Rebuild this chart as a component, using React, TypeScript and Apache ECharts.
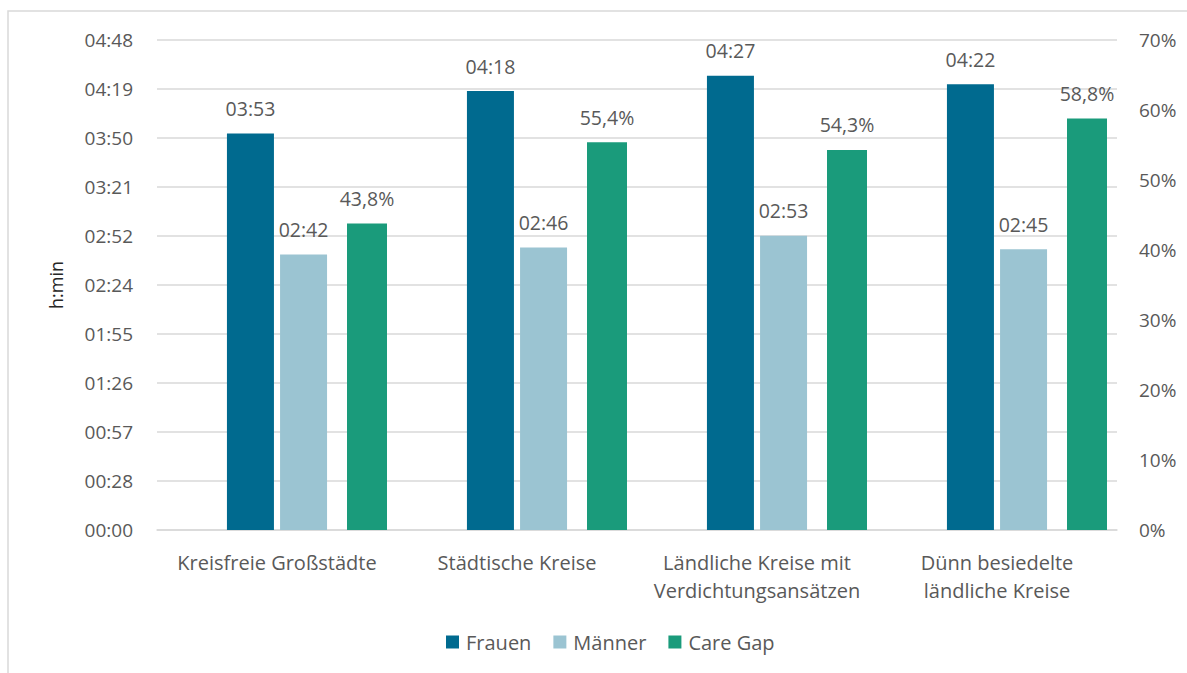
import React, { useEffect, useRef } from "react";
import * as echarts from "echarts";

const categories = [
  "Kreisfreie Großstädte",
  "Städtische Kreise",
  "Ländliche Kreise mit\nVerdichtungsansätzen",
  "Dünn besiedelte\nländliche Kreise",
];
// minutes per day
const frauen = [233, 258, 267, 262];
const maenner = [162, 166, 173, 165];
// percent
const careGap = [43.8, 55.4, 54.3, 58.8];
const seriesNames = ["Frauen", "Männer", "Care Gap"];

const FONT = "'Open Sans', sans-serif";
const TXT = "#595959";
const GRID = "#d9d9d9";

const fmtMin = (v: number) => {
  const m = Math.floor(v + 1e-6);
  const h = Math.floor(m / 60);
  const mm = m % 60;
  return String(h).padStart(2, "0") + ":" + String(mm).padStart(2, "0");
};
const fmtPct = (v: number) => v.toFixed(1).replace(".", ",") + "%";

export default function App() {
  const ref = useRef<HTMLDivElement>(null);
  useEffect(() => {
    if (!ref.current) return;
    const chart = echarts.init(ref.current, undefined, { renderer: "svg" });
    const labelStyle = {
      show: true,
      position: "top" as const,
      distance: 15,
      color: TXT,
      fontFamily: FONT,
      fontSize: 19.5,
    };
    chart.setOption({
      animation: false,
      backgroundColor: "#fff",
      textStyle: { fontFamily: FONT },
      graphic: [
        {
          type: "rect",
          shape: { x: 8, y: 11, width: 1200, height: 700 },
          style: { fill: "none", stroke: GRID, lineWidth: 1.5 },
          silent: true,
        },
      ],
      grid: { left: 157, right: 70, top: 40, bottom: 143, containLabel: false },
      legend: {
        data: seriesNames,
        bottom: 16,
        left: 441,
        itemWidth: 13,
        itemHeight: 13,
        itemGap: 22,
        icon: "rect",
        textStyle: { color: TXT, fontFamily: FONT, fontSize: 20, padding: [0, 0, 0, 2] },
      },
      xAxis: [
        {
          type: "category",
          data: categories,
          axisLine: { show: true, lineStyle: { color: GRID, width: 1.5 } },
          axisTick: { show: false },
          axisLabel: {
            color: TXT,
            fontFamily: FONT,
            fontSize: 20,
            margin: 18,
            lineHeight: 28,
            interval: 0,
          },
        },
        {
          type: "category",
          data: categories,
          show: false,
        },
      ],
      yAxis: [
        {
          type: "value",
          min: 0,
          max: 288,
          interval: 28.8,
          name: "h:min",
          nameLocation: "middle",
          nameRotate: 90,
          nameGap: 92,
          nameTextStyle: { color: "#262626", fontFamily: FONT, fontSize: 18 },
          axisLine: { show: false },
          axisTick: { show: false },
          axisLabel: {
            color: TXT,
            fontFamily: FONT,
            fontSize: 19,
            margin: 24,
            formatter: (v: number) => fmtMin(v),
          },
          splitLine: { lineStyle: { color: GRID, width: 1.5 } },
        },
        {
          type: "value",
          min: 0,
          max: 70,
          interval: 10,
          position: "right",
          axisLine: { show: false },
          axisTick: { show: false },
          axisLabel: {
            color: TXT,
            fontFamily: FONT,
            fontSize: 19,
            margin: 22,
            formatter: "{value}%",
          },
          splitLine: { show: false },
        },
      ],
      series: [
        {
          name: seriesNames[0],
          type: "bar",
          xAxisIndex: 0,
          yAxisIndex: 0,
          data: frauen,
          barWidth: 47,
          barGap: "13%",
          itemStyle: { color: "#006a8f" },
          label: { ...labelStyle, formatter: (p: any) => fmtMin(p.value) },
        },
        {
          name: seriesNames[1],
          type: "bar",
          xAxisIndex: 0,
          yAxisIndex: 0,
          data: maenner,
          barWidth: 47,
          barGap: "13%",
          itemStyle: { color: "#9bc4d2" },
          label: { ...labelStyle, formatter: (p: any) => fmtMin(p.value) },
        },
        {
          name: "_spacer",
          type: "bar",
          xAxisIndex: 1,
          yAxisIndex: 1,
          data: categories.map(() => "-"),
          barWidth: 40,
          barGap: "350%",
          itemStyle: { color: "transparent" },
        },
        {
          name: seriesNames[2],
          type: "bar",
          xAxisIndex: 1,
          yAxisIndex: 1,
          data: careGap,
          barWidth: 40,
          barGap: "350%",
          itemStyle: { color: "#1a9b7b" },
          label: { ...labelStyle, formatter: (p: any) => fmtPct(p.value) },
        },
      ],
    });
    return () => chart.dispose();
  }, []);
  return (
    <div
      ref={ref}
      style={{ position: "absolute", left: 0, top: 0, width: 1187, height: 673 }}
    />
  );
}
